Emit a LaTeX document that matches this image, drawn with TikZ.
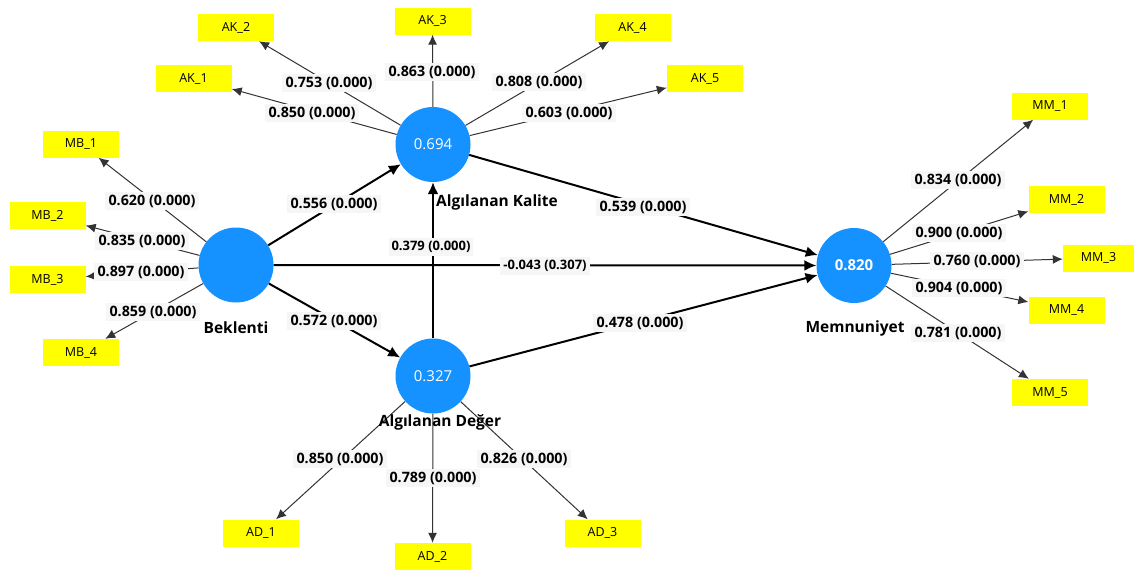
\documentclass[tikz,border=0pt]{standalone}
\usepackage{fontspec}
\setmainfont{Open Sans}
\usetikzlibrary{arrows.meta}
\definecolor{lvblue}{RGB}{21,146,255}
\definecolor{indyellow}{RGB}{255,255,0}
\definecolor{lblbg}{RGB}{246,246,246}
\begin{document}
\begin{tikzpicture}[x=1pt,y=-1pt,
  latent/.style={circle,fill=lvblue,minimum size=75pt,inner sep=0pt,text=white,font=\fontsize{15}{16}\selectfont},
  indic/.style={rectangle,fill=indyellow,minimum width=76pt,minimum height=27pt,inner sep=0pt,font=\fontsize{12.5}{13}\selectfont},
  outerarrow/.style={draw=black!80,line width=1pt,-{Latex[length=10pt,width=9pt]}},
  innerarrow/.style={draw=black,line width=2pt,-{Latex[length=12pt,width=11pt]}},
  loadlbl/.style={fill=lblbg,inner xsep=4pt,inner ysep=3pt,font=\bfseries\fontsize{14.3}{15}\selectfont},
  pathlbl/.style={fill=lblbg,inner xsep=4pt,inner ysep=3pt,font=\bfseries\fontsize{14.3}{15}\selectfont},
  smalllbl/.style={fill=lblbg,inner xsep=3pt,inner ysep=3pt,font=\bfseries\fontsize{13}{14}\selectfont},
  cname/.style={font=\bfseries\fontsize{15.5}{16}\selectfont},
]
\useasboundingbox (0,0) rectangle (1134,570);
\fill[white] (0,0) rectangle (1134,570);

% latent variables
\node[latent] (AK) at (433,144.5) {0.694};
\node[latent] (BK) at (236,265) {};
\node[latent] (AD) at (433,376) {0.327};
\node[latent,font=\bfseries\fontsize{15}{16}\selectfont] (MM) at (854,265.5) {0.820};

% indicators
\node[indic] (AK1) at (193.5,78.5) {AK\_1};
\node[indic] (AK2) at (236,27.5) {AK\_2};
\node[indic] (AK3) at (432.5,21) {AK\_3};
\node[indic] (AK4) at (632.5,27.5) {AK\_4};
\node[indic] (AK5) at (705,78.5) {AK\_5};
\node[indic] (MB1) at (81,144) {MB\_1};
\node[indic] (MB2) at (47.5,215.5) {MB\_2};
\node[indic] (MB3) at (47.5,279.5) {MB\_3};
\node[indic] (MB4) at (81,352.5) {MB\_4};
\node[indic] (MM1) at (1050,106) {MM\_1};
\node[indic] (MM2) at (1066.5,199.5) {MM\_2};
\node[indic,minimum width=71pt] (MM3) at (1098.5,258) {MM\_3};
\node[indic] (MM4) at (1066.5,310) {MM\_4};
\node[indic] (MM5) at (1050,392.5) {MM\_5};
\node[indic] (AD1) at (261,533) {AD\_1};
\node[indic] (AD2) at (432.5,556.5) {AD\_2};
\node[indic] (AD3) at (602.5,533) {AD\_3};

% outer model arrows
\foreach \t in {AK1,AK2,AK3,AK4,AK5} \draw[outerarrow] (AK) -- (\t);
\foreach \t in {MB1,MB2,MB3,MB4} \draw[outerarrow] (BK) -- (\t);
\foreach \t in {MM1,MM2,MM3,MM4,MM5} \draw[outerarrow] (MM) -- (\t);
\foreach \t in {AD1,AD2,AD3} \draw[outerarrow] (AD) -- (\t);

% inner model arrows
\draw[innerarrow] (BK) -- (AK);
\draw[innerarrow] (BK) -- (AD);
\draw[innerarrow] (BK) -- (MM);
\draw[innerarrow] (AD) -- (AK);
\draw[innerarrow] (AK) -- (MM);
\draw[innerarrow] (AD) -- (MM);

% loading labels
\node[loadlbl] (lAK1) at (312,113) {0.850 (0.000)};
\node[loadlbl] (lAK2) at (329,83) {0.753 (0.000)};
\node[loadlbl] (lAK3) at (432,72) {0.863 (0.000)};
\node[loadlbl] (lAK4) at (539,82) {0.808 (0.000)};
\node[loadlbl] (lAK5) at (569,113) {0.603 (0.000)};
\node[loadlbl] (lMB1) at (152,201) {0.620 (0.000)};
\node[loadlbl] (lMB2) at (142,241) {0.835 (0.000)};
\node[loadlbl] (lMB3) at (141,272) {0.897 (0.000)};
\node[loadlbl] (lMB4) at (153,312) {0.859 (0.000)};
\node[loadlbl] (lMM1) at (958,180) {0.834 (0.000)};
\node[loadlbl] (lMM2) at (959,233) {0.900 (0.000)};
\node[loadlbl] (lMM3) at (977,261) {0.760 (0.000)};
\node[loadlbl] (lMM4) at (959,288) {0.904 (0.000)};
\node[loadlbl] (lMM5) at (958,333) {0.781 (0.000)};
\node[loadlbl] (lAD1) at (340,459) {0.850 (0.000)};
\node[loadlbl] (lAD2) at (433,478) {0.789 (0.000)};
\node[loadlbl] (lAD3) at (524,459) {0.826 (0.000)};

% path labels
\node[pathlbl] (pBKAK) at (334,204) {0.556 (0.000)};
\node[pathlbl] (pBKAD) at (334,321) {0.572 (0.000)};
\node[pathlbl] (pAKMM) at (643,207) {0.539 (0.000)};
\node[pathlbl] (pADMM) at (640,323) {0.478 (0.000)};
\node[smalllbl] (pADAK) at (431,247) {0.379 (0.000)};
\node[smalllbl] (pBKMM) at (545,266) {-0.043 (0.307)};

% construct names
\node[cname] (nAK) at (497,202) {Algılanan Kalite};
\node[cname] (nBK) at (236,328) {Beklenti};
\node[cname] (nAD) at (440,422) {Algılanan Değer};
\node[cname] (nMM) at (855,328) {Memnuniyet};
\end{tikzpicture}
\end{document}
